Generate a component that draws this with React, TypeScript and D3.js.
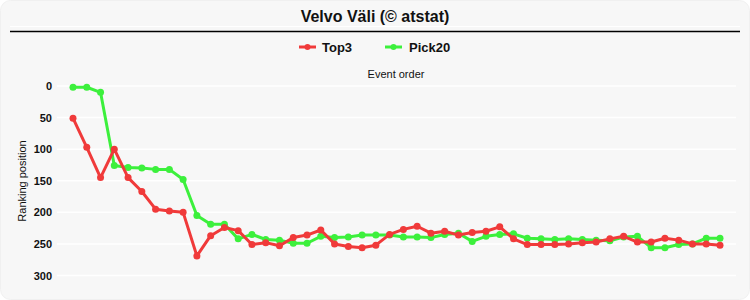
import React from "react";
import * as d3 from "d3";

const top3: number[] = [51, 97, 145, 100, 145, 167, 195, 198, 200, 269, 237, 224, 229, 251, 248, 253, 240, 236, 228, 250, 254, 256, 252, 235, 227, 222, 233, 230, 236, 232, 230, 223, 242, 251, 251, 251, 250, 248, 247, 242, 238, 247, 247, 241, 244, 250, 250, 252];
const pick20: number[] = [2, 2, 10, 126, 129, 130, 132, 132, 148, 205, 219, 219, 242, 235, 243, 244, 249, 249, 238, 240, 239, 236, 236, 236, 239, 239, 240, 235, 233, 246, 238, 235, 234, 241, 242, 243, 242, 243, 244, 245, 239, 238, 256, 256, 251, 250, 241, 241];
const yTicks: number[] = [0, 50, 100, 150, 200, 250, 300];
const seriesNames: string[] = ["Top3", "Pick20"];
const seriesColors: string[] = ["#f03a3a", "#3cf03c"];

const W = 750;
const H = 300;

export default function App() {
  const idx = top3.map((_, i) => i);
  const x = d3.scalePoint<number>().domain(idx).range([73, 720]);
  const y = d3.scaleLinear().domain([0, 300]).range([86, 275.5]);
  const line = d3
    .line<number>()
    .x((_, i) => x(i) as number)
    .y((d) => y(d));
  const series = [top3, pick20];
  const font = "Arial, 'Liberation Sans', sans-serif";

  return (
    <svg
      width={W}
      height={H}
      style={{ position: "absolute", left: 0, top: 0, fontFamily: font }}
    >
      <rect x={0.5} y={0.5} width={W - 1} height={H - 1} rx={10} fill="#f7f7f7" stroke="#f0f0f0" />
      <text x={375} y={22} textAnchor="middle" fontSize={16} fontWeight="bold" fill="#111">
        Velvo Väli (© atstat)
      </text>
      <line x1={10} x2={740} y1={26.5} y2={26.5} stroke="#ffffff" strokeWidth={1} />
      <line x1={10} x2={740} y1={31.5} y2={31.5} stroke="#000" strokeWidth={1.5} />

      {/* legend */}
      {[
        { lx: 299, tx: 322 },
        { lx: 385, tx: 409 },
      ].map((p, k) => (
        <g key={k}>
          <line x1={p.lx} x2={p.lx + 17} y1={47} y2={47} stroke={seriesColors[k]} strokeWidth={3} />
          <circle cx={p.lx + 8.5} cy={47} r={3} fill={seriesColors[k]} />
          <text x={p.tx} y={52} fontSize={13} fontWeight="bold" fill="#111">
            {seriesNames[k]}
          </text>
        </g>
      ))}

      <text x={396} y={78} textAnchor="middle" fontSize={11} fill="#111">
        Event order
      </text>

      {/* grid */}
      {yTicks.map((t) => (
        <g key={t}>
          <line x1={57} x2={736} y1={y(t)} y2={y(t)} stroke="#ffffff" strokeWidth={1.5} />
          <text x={52} y={y(t) + 4} textAnchor="end" fontSize={11} fontWeight="bold" fill="#111">
            {t}
          </text>
        </g>
      ))}

      <text
        transform={`translate(26,181) rotate(-90)`}
        textAnchor="middle"
        fontSize={11}
        fill="#111"
      >
        Ranking position
      </text>

      {[1, 0].map((k) => (
        <g key={k}>
          <path d={line(series[k]) || ""} fill="none" stroke={seriesColors[k]} strokeWidth={3} strokeLinejoin="round" />
          {series[k].map((v, i) => (
            <circle key={i} cx={x(i) as number} cy={y(v)} r={3.5} fill={seriesColors[k]} />
          ))}
        </g>
      ))}
    </svg>
  );
}
